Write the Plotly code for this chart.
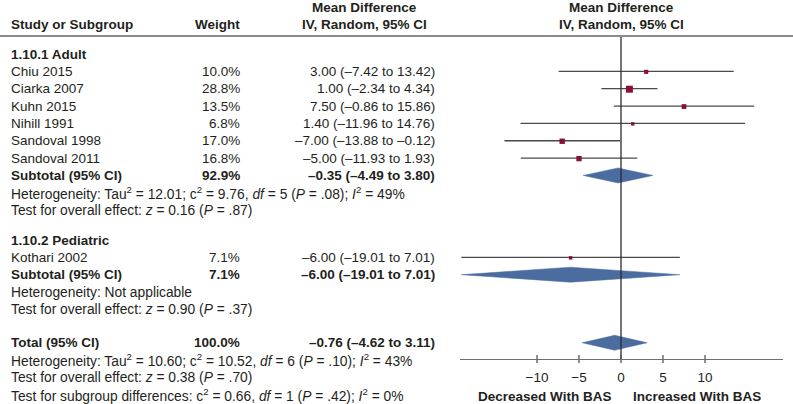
import plotly.graph_objects as go

# ---------------- data ----------------
adult_studies = ["Chiu 2015", "Ciarka 2007", "Kuhn 2015", "Nihill 1991", "Sandoval 1998", "Sandoval 2011"]
adult_weights = [10.0, 28.8, 13.5, 6.8, 17.0, 16.8]
adult_md = [3.00, 1.00, 7.50, 1.40, -7.00, -5.00]
adult_lo = [-7.42, -2.34, -0.86, -11.96, -13.88, -11.93]
adult_hi = [13.42, 4.34, 15.86, 14.76, -0.12, 1.93]
adult_subtotal = [92.9, -0.35, -4.49, 3.80]  # weight, md, lo, hi

ped_studies = ["Kothari 2002"]
ped_weights = [7.1]
ped_md = [-6.00]
ped_lo = [-19.01]
ped_hi = [7.01]
ped_subtotal = [7.1, -6.00, -19.01, 7.01]

total = [100.0, -0.76, -4.62, 3.11]

tick_values = [-10, -5, 0, 5, 10]
tick_labels = ["−10", "−5", "0", "5", "10"]

adult_het = ["Heterogeneity: Tau<sup>2</sup> = 12.01; c<sup>2</sup> = 9.76, <i>df</i> = 5 (<i>P</i> = .08); <i>I</i><sup>2</sup> = 49%",
             "Test for overall effect: <i>z</i> = 0.16 (<i>P</i> = .87)"]
ped_het = ["Heterogeneity: Not applicable",
           "Test for overall effect: <i>z</i> = 0.90 (<i>P</i> = .37)"]
total_het = ["Heterogeneity: Tau<sup>2</sup> = 10.60; c<sup>2</sup> = 10.52, <i>df</i> = 6 (<i>P</i> = .10); <i>I</i><sup>2</sup> = 43%",
             "Test for overall effect: <i>z</i> = 0.38 (<i>P</i> = .70)",
             "Test for subgroup differences: c<sup>2</sup> = 0.66, <i>df</i> = 1 (<i>P</i> = .42); <i>I</i><sup>2</sup> = 0%"]

# ---------------- layout helpers ----------------
W, H = 793, 404
FONT = "Liberation Sans, Arial, Helvetica, sans-serif"
FS = 13.5
FS_NOTE = 13.8
TXT = "#231f20"
SQ = "#8a0e3c"
DIA = "#4b6c9e"
CI_COL = "#4a4a4a"

X_STUDY = 10
X_WEIGHT = 241
X_CI = 436
X_HDR_MD = 364
AX_L, AX_R = 460, 783
X0_PIX = 621
PX_PER_UNIT = 8.4
AXIS_Y = 359
STEP = 17.35


def px(x):
    return x / W


def fmt(v):
    return f"{v:.2f}".replace("-", "–")


def ci_text(m, l, h):
    return f"{fmt(m)} ({fmt(l)} to {fmt(h)})"


# row positions (pixel y)
y = 54.0
rows = {}
rows["adult_hdr"] = y
adult_y = []
for _ in adult_studies:
    y += STEP
    adult_y.append(y)
y += STEP
rows["adult_sub"] = y
adult_het_y = []
for _ in adult_het:
    y += STEP
    adult_het_y.append(y)
y += STEP + 12.5
rows["ped_hdr"] = y
ped_y = []
for _ in ped_studies:
    y += STEP
    ped_y.append(y)
y += STEP
rows["ped_sub"] = y
ped_het_y = []
for _ in ped_het:
    y += STEP
    ped_het_y.append(y)
y += STEP + 16
rows["total"] = y
total_het_y = []
for _ in total_het:
    y += STEP
    total_het_y.append(y)

fig = go.Figure()
annotations = []


def txt(x, yy, s, anchor="left", bold=False, size=FS):
    if bold:
        s = f"<b>{s}</b>"
    annotations.append(dict(x=px(x), y=yy, xref="paper", yref="y", text=s, showarrow=False,
                            xanchor=anchor, yanchor="middle",
                            font=dict(family=FONT, size=size, color=TXT), borderpad=0))


# headers
txt(X_STUDY, 24, "Study or Subgroup", bold=True)
txt(X_WEIGHT, 24, "Weight", anchor="right", bold=True)
txt(X_HDR_MD, 7, "Mean Difference", anchor="center", bold=True)
txt(X_HDR_MD, 24, "IV, Random, 95% CI", anchor="center", bold=True)
txt(X0_PIX, 7, "Mean Difference", anchor="center", bold=True)
txt(X0_PIX, 24, "IV, Random, 95% CI", anchor="center", bold=True)


def study_rows(names, ws, ms, ls, hs, ys):
    for n, w, m, l, h, yy in zip(names, ws, ms, ls, hs, ys):
        txt(X_STUDY, yy, n)
        txt(X_WEIGHT, yy, f"{w:.1f}%", anchor="right")
        txt(X_CI, yy, ci_text(m, l, h), anchor="right")
        fig.add_trace(go.Scatter(x=[l, h], y=[yy, yy], mode="lines",
                                 line=dict(color=CI_COL, width=1.3), hoverinfo="skip"))
        fig.add_trace(go.Scatter(x=[m], y=[yy + 0.5], mode="markers",
                                 marker=dict(symbol="square", size=1.3 * w ** 0.5, color=SQ,
                                             line=dict(width=0)), hoverinfo="skip"))


def summary_row(label, vals, yy):
    w, m, l, h = vals
    txt(X_STUDY, yy, label, bold=True)
    txt(X_WEIGHT, yy, f"{w:.1f}%", anchor="right", bold=True)
    txt(X_CI, yy, ci_text(m, l, h), anchor="right", bold=True)
    half = 7.5
    fig.add_trace(go.Scatter(x=[l, m, h, m, l], y=[yy, yy - half, yy, yy + half, yy],
                             mode="lines", fill="toself", fillcolor=DIA,
                             line=dict(color=DIA, width=0.5), hoverinfo="skip"))


txt(X_STUDY, rows["adult_hdr"], "1.10.1 Adult", bold=True)
study_rows(adult_studies, adult_weights, adult_md, adult_lo, adult_hi, adult_y)
summary_row("Subtotal (95% CI)", adult_subtotal, rows["adult_sub"])
for s, yy in zip(adult_het, adult_het_y):
    txt(X_STUDY, yy, s, size=FS_NOTE)

txt(X_STUDY, rows["ped_hdr"], "1.10.2 Pediatric", bold=True)
study_rows(ped_studies, ped_weights, ped_md, ped_lo, ped_hi, ped_y)
summary_row("Subtotal (95% CI)", ped_subtotal, rows["ped_sub"])
for s, yy in zip(ped_het, ped_het_y):
    txt(X_STUDY, yy, s, size=FS_NOTE)

summary_row("Total (95% CI)", total, rows["total"])
for s, yy in zip(total_het, total_het_y):
    txt(X_STUDY, yy, s, size=FS_NOTE)

# zero line
fig.add_trace(go.Scatter(x=[0, 0], y=[36, AXIS_Y], mode="lines",
                         line=dict(color="#2b2b2b", width=1.3), hoverinfo="skip"))
# tick marks crossing the axis
tx, ty = [], []
for t in tick_values:
    tx += [t, t, None]
    ty += [AXIS_Y - 4, AXIS_Y + 4, None]
fig.add_trace(go.Scatter(x=tx, y=ty, mode="lines", line=dict(color="#555555", width=1.3),
                         hoverinfo="skip"))

# direction labels
txt(612, 396, "Decreased With BAS", anchor="right", bold=True)
txt(632, 396, "Increased With BAS", anchor="left", bold=True)

x_lo = (AX_L - X0_PIX) / PX_PER_UNIT
x_hi = (AX_R - X0_PIX) / PX_PER_UNIT

fig.update_layout(
    width=W, height=H,
    margin=dict(l=0, r=0, t=0, b=0),
    paper_bgcolor="white", plot_bgcolor="white",
    showlegend=False, hovermode=False,
    annotations=annotations,
    shapes=[dict(type="line", xref="paper", yref="y", x0=0, x1=1, y0=36, y1=36,
                 line=dict(color="#8c8c8c", width=2))],
    xaxis=dict(domain=[px(AX_L), px(AX_R)], range=[x_lo, x_hi], anchor="free",
               position=(H - AXIS_Y) / H, showline=True, linecolor="#6f6f6f", linewidth=1.3,
               ticks="", tickvals=tick_values, ticktext=tick_labels, showgrid=False,
               zeroline=False, ticklabelstandoff=6,
               tickfont=dict(family=FONT, size=FS, color=TXT), fixedrange=True),
    yaxis=dict(domain=[0, 1], range=[H, 0], visible=False, showgrid=False,
               zeroline=False, fixedrange=True),
)

fig.write_html("out.html", config={"displayModeBar": False},
               post_script="document.body.style.margin='0';document.body.style.overflow='hidden';")
